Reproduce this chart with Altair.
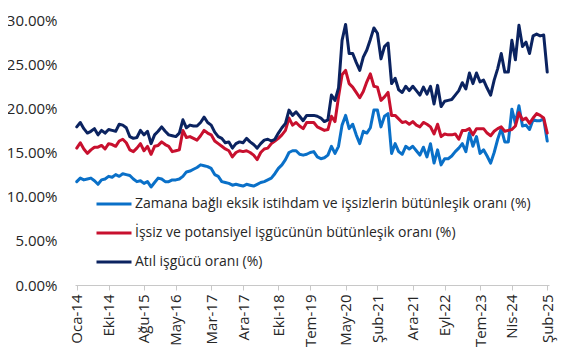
import altair as alt
import pandas as pd

TR_MONTHS = ["Oca", "Şub", "Mar", "Nis", "May", "Haz", "Tem", "Ağu", "Eyl", "Eki", "Kas", "Ara"]
months = [f"{TR_MONTHS[m]}-{y % 100:02d}" for y in range(2014, 2026) for m in range(12)][:134]

tick_labels = ["Oca-14", "Eki-14", "Ağu-15", "May-16", "Mar-17", "Ara-17", "Eki-18", "Tem-19",
               "May-20", "Şub-21", "Ara-21", "Eyl-22", "Tem-23", "Nis-24", "Şub-25"]

series_names = [
    "Zamana bağlı eksik istihdam ve işsizlerin bütünleşik oranı (%)",
    "İşsiz ve potansiyel işgücünün bütünleşik oranı (%)",
    "Atıl işgücü oranı (%)",
]
colors = ["#0A70C8", "#C8102E", "#0B2360"]

zamana = [
    11.7, 12.1, 11.9, 12.0, 12.1, 11.8, 11.4, 11.9, 12.0, 12.3,
    12.2, 12.5, 12.3, 12.6, 12.5, 12.4, 12.0, 11.7, 11.8, 11.5,
    11.7, 11.1, 11.6, 12.1, 12.0, 11.7, 11.7, 11.9, 11.9, 12.0,
    12.3, 12.8, 12.9, 13.1, 13.3, 13.6, 13.5, 13.4, 13.2, 12.5,
    12.3, 11.7, 11.6, 11.5, 11.3, 11.4, 11.3, 11.2, 11.4, 11.3,
    11.2, 11.4, 11.6, 11.7, 11.9, 12.1, 12.6, 13.2, 13.6, 14.2,
    15.0, 15.2, 15.2, 14.8, 14.7, 14.8, 15.0, 15.1, 14.5, 14.3,
    14.4, 14.7, 15.7, 14.9, 15.7, 18.1, 19.2, 17.7, 18.2, 17.0,
    16.0, 17.4, 17.2, 17.8, 19.8, 19.8, 17.9, 19.1, 19.4, 14.9,
    16.0, 15.1, 14.8, 15.7, 15.4, 15.7, 15.2, 14.7, 15.6, 14.5,
    16.0, 13.8, 15.3, 13.6, 14.3, 14.3, 14.6, 15.1, 15.5, 16.0,
    15.1, 17.2, 15.7, 16.8, 14.9, 15.3, 14.6, 13.8, 15.0, 16.5,
    17.7, 16.2, 16.2, 19.9, 18.3, 20.3, 18.0, 18.1, 17.6, 18.7,
    18.6, 18.6, 18.8, 16.3,
]

issiz = [
    15.5, 16.1, 15.4, 14.9, 15.3, 15.6, 15.6, 15.8, 15.4, 16.0,
    15.9, 15.7, 16.3, 16.5, 16.1, 15.3, 15.1, 15.5, 16.0, 15.2,
    15.7, 14.8, 15.7, 15.8, 16.2, 15.9, 15.7, 15.1, 15.2, 15.3,
    17.5, 16.7, 16.8, 16.6, 16.4, 16.9, 17.5, 17.2, 17.0, 16.3,
    16.0, 15.7, 15.4, 15.2, 14.5, 15.0, 15.2, 15.1, 15.2, 15.0,
    14.7, 14.2, 15.0, 15.4, 15.5, 16.0, 16.3, 16.6, 17.0, 17.5,
    18.9, 18.1, 18.4, 18.0, 17.7, 18.4, 18.4, 18.4, 17.9, 17.7,
    17.5, 17.6, 19.1, 18.5, 21.3, 23.8, 24.3, 22.8, 22.4, 21.8,
    21.2, 21.9, 23.0, 23.9, 22.5, 22.4, 20.9, 21.3, 21.8, 19.2,
    19.2, 18.8, 18.4, 18.5, 18.2, 18.5, 18.1, 17.9, 18.4, 18.2,
    17.9, 17.1, 18.2, 16.8, 17.1, 17.0, 17.0, 17.1, 16.5, 17.5,
    17.5, 17.7, 17.0, 17.7, 17.7, 17.7, 17.2, 16.9, 17.4, 17.7,
    17.9, 17.4, 17.5, 17.6, 18.0, 19.5, 18.7, 18.9, 18.3, 18.9,
    19.4, 19.2, 18.9, 17.2,
]

atil = [
    17.9, 18.4, 17.7, 17.2, 17.4, 17.7, 17.0, 17.5, 17.2, 17.6,
    17.5, 17.4, 18.2, 18.1, 17.8, 16.8, 16.6, 16.7, 17.5, 17.0,
    17.4, 16.0, 17.0, 17.4, 17.9, 17.4, 17.0, 16.9, 16.8, 17.2,
    18.7, 17.8, 18.1, 18.0, 18.0, 18.4, 19.0, 18.4, 18.1, 17.3,
    16.8, 16.6, 16.1, 16.2, 15.5, 16.0, 16.2, 16.1, 16.6, 16.2,
    15.9, 15.5, 16.0, 16.4, 16.5, 16.3, 16.5, 17.2, 17.8, 18.3,
    19.8, 19.2, 19.6, 19.1, 18.6, 19.2, 19.2, 19.2, 19.1, 18.9,
    18.5, 18.7, 21.5, 20.9, 22.3, 27.7, 29.5, 26.2, 26.2, 25.2,
    24.3, 25.8, 26.6, 27.8, 29.1, 28.5, 25.6, 27.0, 27.4, 22.8,
    23.4, 22.1, 21.8, 22.5, 22.0, 22.5, 22.0, 21.5, 22.4, 21.6,
    22.5, 20.5, 22.6, 20.2, 20.8, 20.9, 21.0, 21.5, 22.0, 22.9,
    22.2, 24.0, 22.8, 24.0, 23.0, 23.2, 22.3, 21.5, 23.2, 24.5,
    26.2, 24.1, 24.1, 27.7, 25.5, 29.4, 27.0, 27.5, 26.2, 28.2,
    28.4, 28.2, 28.3, 24.1,
]

y_ticks = [0.0, 0.05, 0.10, 0.15, 0.20, 0.25, 0.30]

rows = []
for name, vals in zip(series_names, [zamana, issiz, atil]):
    for idx, (m, v) in enumerate(zip(months, vals)):
        rows.append({"Ay": m, "idx": idx, "Seri": name, "Oran": v / 100.0})
df = pd.DataFrame(rows)

FONT = "Open Sans"

chart = (
    alt.Chart(df)
    .mark_line(strokeWidth=3, strokeJoin="round", strokeCap="round")
    .encode(
        x=alt.X(
            "Ay:N",
            sort=months,
            scale=alt.Scale(type="point", range=[12, 486]),
            axis=alt.Axis(
                values=tick_labels,
                labelAngle=-90,
                title=None,
                domainColor="#C8C8C8",
                tickColor="#C8C8C8",
                tickSize=5,
                labelPadding=4,
                grid=False,
            ),
        ),
        y=alt.Y(
            "Oran:Q",
            scale=alt.Scale(domain=[0, 0.30], nice=False),
            axis=alt.Axis(
                format=".2%",
                values=y_ticks,
                title=None,
                grid=False,
                domain=False,
                ticks=False,
                labelPadding=6,
            ),
        ),
        color=alt.Color(
            "Seri:N",
            scale=alt.Scale(domain=series_names, range=colors),
            legend=alt.Legend(
                orient="none",
                legendX=32,
                legendY=165,
                title=None,
                symbolType="stroke",
                symbolStrokeWidth=3,
                symbolSize=1225,
                labelFontSize=14,
                labelFont=FONT,
                labelColor="#262626",
                labelLimit=600,
                labelOffset=2,
                rowPadding=3,
            ),
        ),
        order=alt.Order("idx:Q"),
    )
    .properties(
        width=490,
        height=265,
        autosize=alt.AutoSizeParams(type="none"),
        padding={"left": 55, "top": 12, "right": 5, "bottom": 62},
    )
    .configure_view(stroke=None)
    .configure_axis(
        labelFont=FONT,
        labelFontSize=15,
        labelColor="#262626",
    )
)

chart.save("out.html", embed_options={"renderer": "svg", "actions": False})
